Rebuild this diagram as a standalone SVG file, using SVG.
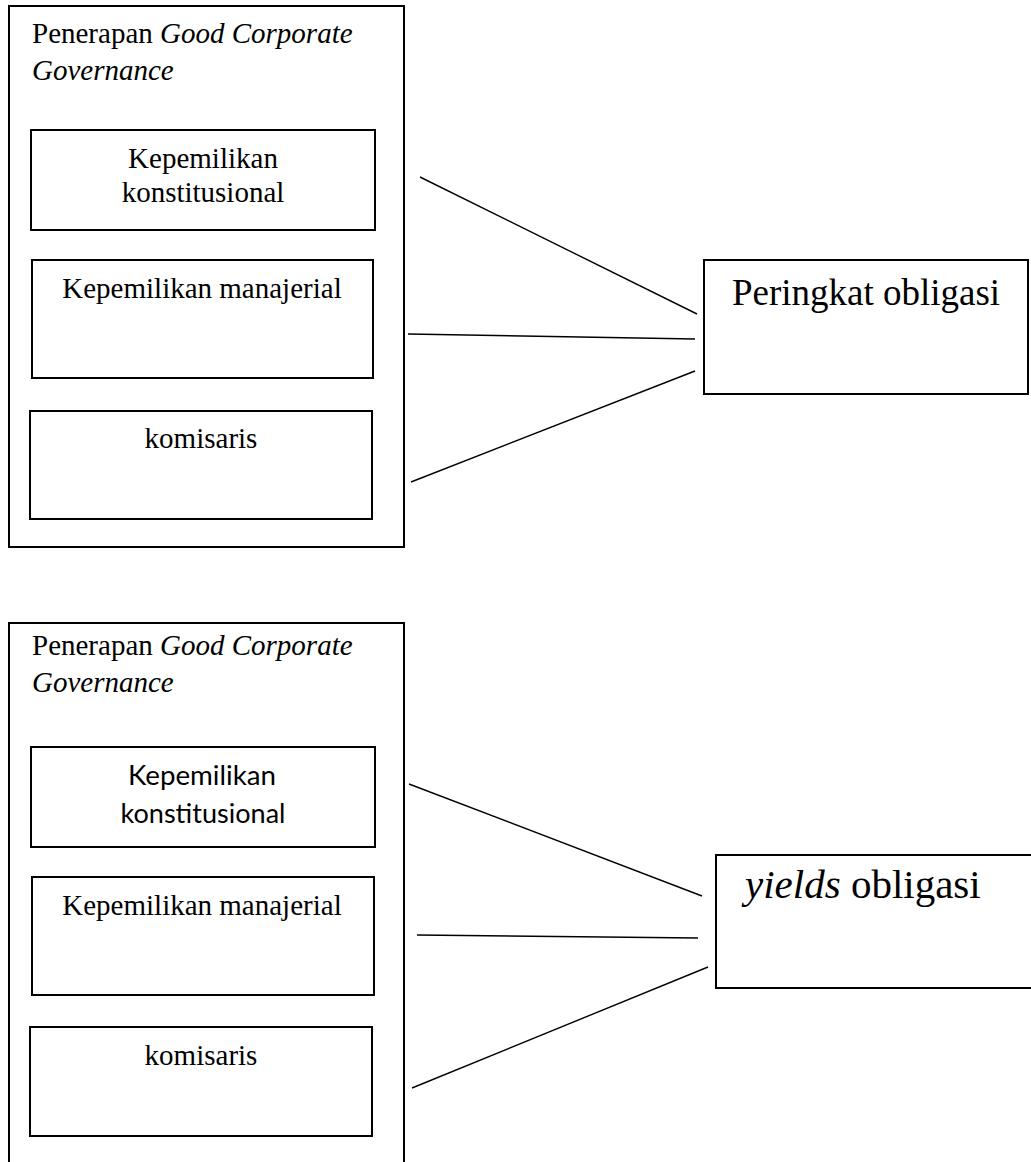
<svg xmlns="http://www.w3.org/2000/svg" width="1031" height="1162" viewBox="0 0 1031 1162">
<style>
.box{fill:#fff;stroke:#000;stroke-width:2}
.it{font-style:italic}
.con line{stroke:#000;stroke-width:1.4}
</style>
<rect width="1031" height="1162" fill="#fff"/>
<g id="gcg1" font-family="'Liberation Serif', 'Times New Roman', Times, serif" font-size="29">
<rect class="box" x="9" y="6" width="395" height="541"/>
<text x="32" y="43">Penerapan <tspan class="it">Good Corporate</tspan></text>
<text class="it" x="32" y="80">Governance</text>
</g>
<g id="kk1" font-family="'Liberation Serif', 'Times New Roman', Times, serif" font-size="29" text-anchor="middle">
<rect class="box" x="31" y="130" width="344" height="100"/>
<text x="203" y="168">Kepemilikan</text>
<text x="203" y="202">konstitusional</text>
</g>
<g id="km1" font-family="'Liberation Serif', 'Times New Roman', Times, serif" font-size="29" text-anchor="middle">
<rect class="box" x="32" y="260" width="341" height="118"/>
<text x="202" y="298">Kepemilikan manajerial</text>
</g>
<g id="kom1" font-family="'Liberation Serif', 'Times New Roman', Times, serif" font-size="29" text-anchor="middle">
<rect class="box" x="30" y="411" width="342" height="108"/>
<text x="201" y="448">komisaris</text>
</g>
<g id="po" font-family="'Liberation Serif', 'Times New Roman', Times, serif" font-size="37" text-anchor="middle">
<rect class="box" x="704" y="260" width="324" height="134"/>
<text x="866" y="305">Peringkat obligasi</text>
</g>
<g id="gcg2" font-family="'Liberation Serif', 'Times New Roman', Times, serif" font-size="29">
<rect class="box" x="9" y="623" width="395" height="560"/>
<text x="32" y="655">Penerapan <tspan class="it">Good Corporate</tspan></text>
<text class="it" x="32" y="692">Governance</text>
</g>
<g id="kk2" font-family="Lato, 'Open Sans', sans-serif" font-size="27" text-anchor="middle">
<rect class="box" x="31" y="747" width="344" height="100"/>
<text x="202" y="785" textLength="148" lengthAdjust="spacingAndGlyphs">Kepemilikan</text>
<text x="203" y="823" textLength="165" lengthAdjust="spacingAndGlyphs">konstitusional</text>
</g>
<g id="km2" font-family="'Liberation Serif', 'Times New Roman', Times, serif" font-size="29" text-anchor="middle">
<rect class="box" x="32" y="877" width="342" height="118"/>
<text x="202" y="915">Kepemilikan manajerial</text>
</g>
<g id="kom2" font-family="'Liberation Serif', 'Times New Roman', Times, serif" font-size="29" text-anchor="middle">
<rect class="box" x="30" y="1027" width="342" height="109"/>
<text x="201" y="1065">komisaris</text>
</g>
<g id="yo" font-family="'Liberation Serif', 'Times New Roman', Times, serif" font-size="41">
<rect class="box" x="716" y="855" width="330" height="133"/>
<text x="745" y="898"><tspan class="it">yields</tspan> obligasi</text>
</g>
<g id="connectors" class="con">
<line x1="420" y1="177" x2="697" y2="314"/>
<line x1="408" y1="334" x2="695" y2="339"/>
<line x1="411" y1="482" x2="695" y2="371"/>
<line x1="409" y1="784" x2="702" y2="896"/>
<line x1="417" y1="935" x2="698" y2="938"/>
<line x1="412" y1="1088" x2="708" y2="967"/>
</g>
</svg>
